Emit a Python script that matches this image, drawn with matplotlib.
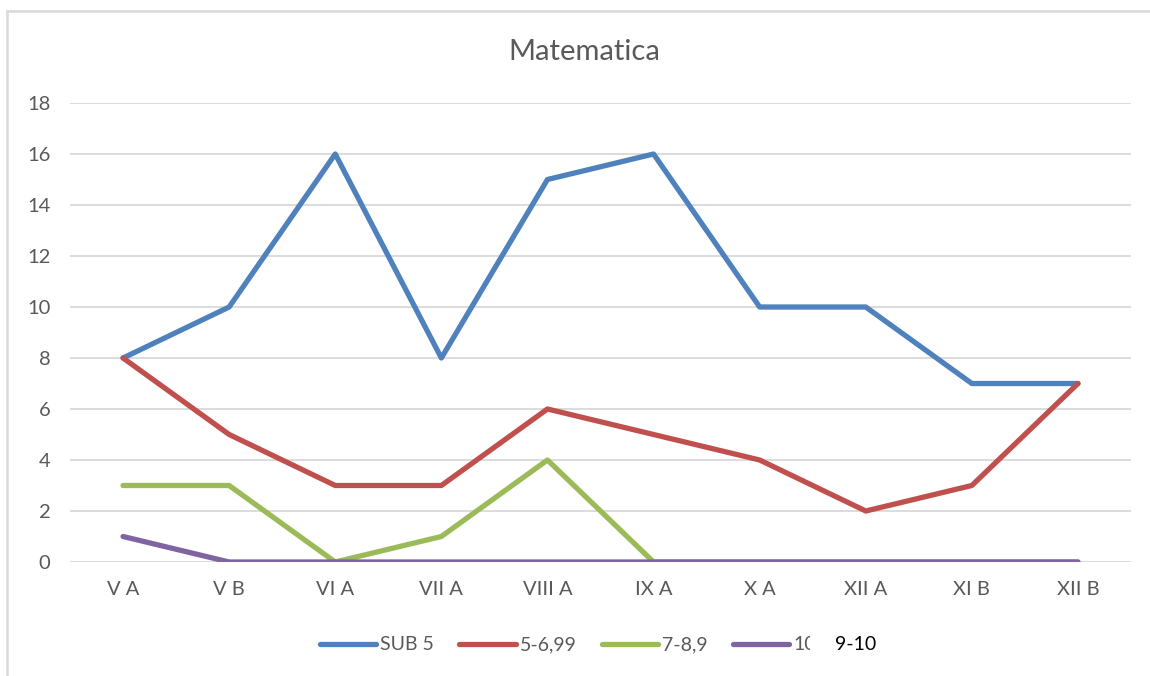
import matplotlib.pyplot as plt
from matplotlib.lines import Line2D
from matplotlib.patches import Rectangle

plt.rcParams["font.family"] = ["Lato", "DejaVu Sans"]

classes = ["V A", "V B", "VI A", "VII A", "VIII A", "IX A", "X A", "XII A", "XI B", "XII B"]
sub5 = [8, 10, 16, 8, 15, 16, 10, 10, 7, 7]
note5_699 = [8, 5, 3, 3, 6, 5, 4, 2, 3, 7]
note7_89 = [3, 3, 0, 1, 4, 0, 0, 0, 0, 0]
note10 = [1, 0, 0, 0, 0, 0, 0, 0, 0, 0]

series = [("SUB 5", sub5, "#4F81BD"),
          ("5-6,99", note5_699, "#C0504D"),
          ("7-8,9", note7_89, "#9BBB59"),
          ("10", note10, "#8064A2")]

fig = plt.figure(figsize=(11.5, 6.76), dpi=100, facecolor="white")
ax = fig.add_axes([70/1150, 1-562/676, (1131-70)/1150, (562-103)/676])

x = range(len(classes))
for label, vals, col in series:
    ax.plot(x, vals, color=col, lw=3.8, label=label, solid_capstyle="round", solid_joinstyle="round")

ax.set_xlim(-0.5, len(classes) - 0.5)
ax.set_ylim(0, 18)
ax.set_yticks(range(0, 19, 2))
ax.set_xticks(list(x))
ax.set_xticklabels(classes)
ax.grid(axis="y", color="#D9D9D9", lw=1.3)
ax.set_axisbelow(True)
for s in ax.spines.values():
    s.set_visible(False)
ax.tick_params(length=0, labelsize=14.5, colors="#595959")
ax.tick_params(axis="x", pad=14)
ax.tick_params(axis="y", pad=14)

fig.text(584/1150, 1-52/676, "Matematica", ha="center", va="center", fontsize=21, color="#595959")

leg = fig.legend(loc="center", bbox_to_anchor=(568/1150, 1-645/676), ncol=4, frameon=False,
                 fontsize=14, handlelength=2.9, handletextpad=0.2, columnspacing=1.3)
for t in leg.get_texts():
    t.set_color("#595959")

# white patch with "9-10" pasted over the last legend label
fig.add_artist(Rectangle((810/1150, 1-662/676), 80/1150, 34/676, transform=fig.transFigure,
                         facecolor="white", edgecolor="none", zorder=10))
fig.text(835/1150, 1-645/676, "9-10", ha="left", va="center", fontsize=14, color="black", zorder=11)

fig.add_artist(Line2D([7/1150, 1], [1-11/676, 1-11/676], color="#D9D9D9", lw=1.8))
fig.add_artist(Line2D([7/1150, 7/1150], [0, 1-11/676], color="#D9D9D9", lw=1.8))

fig.savefig("out.png", dpi=100, facecolor="white")
